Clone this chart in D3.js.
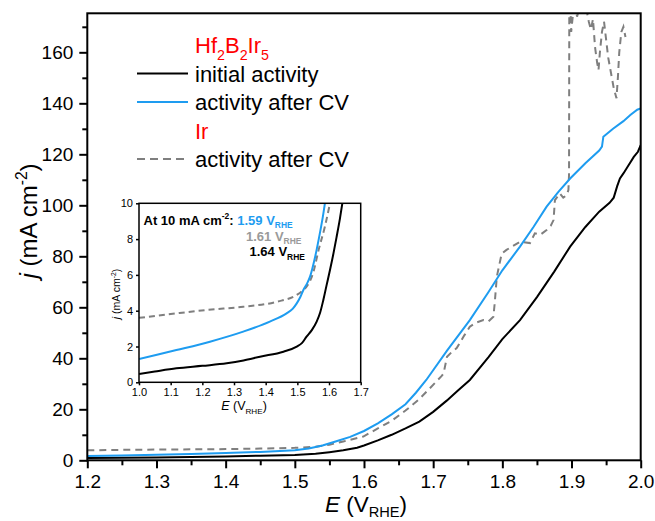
<!DOCTYPE html>
<html><head><meta charset="utf-8">
<script src="https://cdn.jsdelivr.net/npm/d3@7/dist/d3.min.js"></script>
<style>
html,body{margin:0;padding:0;background:#fff;}
svg{display:block;font-family:"Liberation Sans",Arial,sans-serif;}
</style></head>
<body>
<svg id="chart" width="655" height="521"></svg>
<script>
// ---------- DATA ----------
// Main panel: Hf2B2Ir5 initial activity [E (V_RHE), j (mA cm^-2)]
const initialActivity = [
  [1.20,0.9],[1.25,1.0],[1.30,1.1],[1.35,1.3],[1.40,1.5],[1.45,1.8],[1.50,2.1],[1.53,2.6],[1.55,3.2],
  [1.57,3.9],[1.59,4.9],[1.60,5.8],[1.62,7.8],[1.64,10.0],[1.66,12.5],[1.68,15.2],[1.70,19.0],
  [1.72,23.5],[1.735,27.2],[1.753,31.5],[1.78,40.5],[1.80,47.5],[1.8255,55.0],[1.85,64.0],
  [1.875,74.0],[1.898,83.8],[1.92,91.5],[1.94,97.5],[1.955,101.0],[1.961,103.0],[1.966,107.5],
  [1.970,110.5],[1.975,112.5],[1.982,115.5],[1.990,119.0],[1.996,121.0],[2.00,123.6]
];
// Hf2B2Ir5 activity after CV
const afterCV = [
  [1.20,1.7],[1.25,1.9],[1.30,2.2],[1.35,2.5],[1.40,2.9],[1.45,3.3],[1.50,3.9],[1.52,4.6],[1.54,5.8],
  [1.56,7.5],[1.58,9.2],[1.60,11.5],[1.62,14.5],[1.64,18.0],[1.66,22.0],[1.675,26.5],[1.69,31.5],
  [1.72,43.0],[1.753,55.0],[1.78,66.0],[1.80,74.5],[1.8255,83.8],[1.845,91.5],[1.864,99.5],
  [1.881,105.3],[1.898,110.5],[1.92,116.5],[1.94,121.5],[1.944,123.0],[1.946,126.9],[1.96,130.0],
  [1.975,133.0],[1.985,135.4],[1.995,137.5],[2.00,138.0]
];
// Ir activity after CV
const irAfterCV = [
  [1.20,3.9],[1.25,4.1],[1.30,4.2],[1.35,4.3],[1.40,4.4],[1.45,4.6],[1.50,4.9],[1.53,5.3],[1.55,6.1],
  [1.57,7.4],[1.599,9.3],[1.62,12.5],[1.64,15.5],[1.66,19.5],[1.68,24.0],[1.695,28.2],[1.705,31.0],
  [1.712,33.0],[1.715,34.0],[1.72,40.6],[1.727,42.5],[1.734,44.0],[1.745,49.0],[1.753,52.4],
  [1.762,54.0],[1.7725,55.0],[1.78,54.5],[1.787,56.3],[1.789,61.7],[1.792,72.0],[1.799,81.0],
  [1.806,82.5],[1.815,84.0],[1.8255,85.7],[1.84,85.2],[1.847,89.0],[1.855,88.5],[1.864,90.3],
  [1.870,92.0],[1.874,94.2],[1.876,102.0],[1.883,104.7],[1.888,103.0],[1.893,104.0],[1.8955,106.0],
  [1.8964,112.0],[1.8968,182.0],[1.8985,176.0],[1.8995,168.0],[1.901,172.0],[1.904,180.0],
  [1.908,174.0],[1.912,178.0],[1.918,182.0],[1.925,172.0],[1.928,169.0],[1.931,173.0],[1.934,162.0],
  [1.937,156.0],[1.939,153.0],[1.941,160.0],[1.944,168.0],[1.947,172.0],[1.950,165.0],[1.953,158.0],
  [1.957,152.0],[1.961,146.0],[1.965,142.0],[1.967,150.0],[1.969,160.0],[1.972,168.0],[1.975,170.0],
  [1.978,166.0]
];
// Inset (zoom of onset region)
const insetInitial = [
  [1.00,0.46],[1.05,0.6],[1.118,0.78],[1.20,0.92],[1.277,1.06],[1.33,1.22],[1.382,1.43],[1.456,1.71],
  [1.498,1.99],[1.515,2.2],[1.529,2.55],[1.545,2.9],[1.561,3.39],[1.572,3.9],[1.582,4.6],[1.592,5.4],
  [1.603,6.27],[1.614,7.2],[1.624,8.13],[1.634,9.1],[1.642,10.0]
];
const insetAfterCV = [
  [1.00,1.3],[1.06,1.55],[1.118,1.8],[1.224,2.27],[1.329,2.83],[1.413,3.39],[1.466,3.85],
  [1.485,4.1],[1.498,4.41],[1.509,4.75],[1.519,5.16],[1.530,5.5],[1.540,5.9],[1.556,7.0],
  [1.571,8.32],[1.580,9.2],[1.587,10.0]
];
const insetIr = [
  [1.00,3.6],[1.118,3.85],[1.22,4.05],[1.329,4.22],[1.435,4.5],[1.498,4.88],[1.515,5.1],
  [1.529,5.34],[1.551,6.18],[1.567,7.39],[1.587,8.7],[1.603,10.0]
];
const xTicksMain = [1.2,1.3,1.4,1.5,1.6,1.7,1.8,1.9,2.0];
const xMinorMain = [1.25,1.35,1.45,1.55,1.65,1.75,1.85,1.95];
const yTicksMain = [0,20,40,60,80,100,120,140,160];
const yMinorMain = [10,30,50,70,90,110,130,150,170];
const xTicksInset = [1.0,1.1,1.2,1.3,1.4,1.5,1.6,1.7];
const yTicksInset = [0,2,4,6,8,10];
const seriesNames = ["initial activity","activity after CV","activity after CV"];
const groupNames = ["Hf2B2Ir5","Ir"];
const onsetLabels = ["1.59","1.61","1.64"];

// ---------- STYLE ----------
const BLACK="#000000", BLUE="#1e9cf0", GRAY="#7f7f7f", RED="#ff0000", LGRAY="#9a9a9a";
const svg = d3.select("#chart");

function rich(g, x, y, parts, fs, attrs, subOff){
  const so = subOff===undefined ? 0.3 : subOff;
  const t = g.append("text").attr("x",x).attr("y",y).attr("font-size",fs);
  for (const k in (attrs||{})) t.attr(k, attrs[k]);
  let off = 0;
  parts.forEach(p=>{
    const s = t.append("tspan").text(p.t);
    let target = 0, size = fs;
    if (p.sub){ target = so*fs; size = 0.65*fs; }
    if (p.sup){ target = -0.42*fs; size = 0.65*fs; }
    s.attr("dy", target-off).attr("font-size", size);
    off = target;
    if (p.fill) s.attr("fill", p.fill);
    if (p.italic) s.attr("font-style","italic");
  });
  return t;
}

// ---------- MAIN PANEL ----------
const L=87.3, R=640.7, T=13.3, B=460.3;
const x = d3.scaleLinear([1.2,2.0],[L,R]);
const y = d3.scaleLinear([0,175.3],[B,T]);

svg.append("clipPath").attr("id","clipMain").append("rect")
  .attr("x",L).attr("y",T).attr("width",R-L).attr("height",B-T);

const line = d3.line().x(d=>x(d[0])).y(d=>y(d[1]));
const plot = svg.append("g").attr("clip-path","url(#clipMain)");
plot.append("path").datum(irAfterCV).attr("d",line).attr("fill","none")
  .attr("stroke",GRAY).attr("stroke-width",2).attr("stroke-dasharray","7,5");
plot.append("path").datum(initialActivity).attr("d",line).attr("fill","none")
  .attr("stroke",BLACK).attr("stroke-width",2);
plot.append("path").datum(afterCV).attr("d",line).attr("fill","none")
  .attr("stroke",BLUE).attr("stroke-width",2);

// axes
const xAxis = svg.append("g").attr("transform",`translate(0,${B})`)
  .call(d3.axisBottom(x).tickValues(xTicksMain).tickFormat(d3.format(".1f")).tickSize(8).tickPadding(6));
const xMinor = svg.append("g").attr("transform",`translate(0,${B})`)
  .call(d3.axisBottom(x).tickValues(xMinorMain).tickFormat("").tickSize(5));
const yAxis = svg.append("g").attr("transform",`translate(${L},0)`)
  .call(d3.axisLeft(y).tickValues(yTicksMain).tickFormat(d3.format("d")).tickSize(8).tickPadding(6));
const yMinor = svg.append("g").attr("transform",`translate(${L},0)`)
  .call(d3.axisLeft(y).tickValues(yMinorMain).tickFormat("").tickSize(5));
[xAxis,xMinor,yAxis,yMinor].forEach(a=>{
  a.select(".domain").remove();
  a.selectAll(".tick line").attr("stroke",BLACK).attr("stroke-width",2);
  a.selectAll(".tick text").attr("font-size",19).attr("fill",BLACK)
    .attr("font-family",'"Liberation Sans",Arial,sans-serif');
});
xAxis.selectAll(".tick text").attr("dy","0.71em");
svg.append("rect").attr("x",L).attr("y",T).attr("width",R-L).attr("height",B-T)
  .attr("fill","none").attr("stroke",BLACK).attr("stroke-width",2);

// axis titles
rich(svg, 366, 512, [{t:"E",italic:true},{t:" (V"},{t:"RHE",sub:true},{t:")"}], 22.5, {"text-anchor":"middle"}, 0.22);
rich(svg.append("g").attr("transform","translate(37,221) rotate(-90)"), 0, 0,
  [{t:"j",italic:true},{t:" (mA cm"},{t:"-2",sup:true},{t:")"}], 24, {"text-anchor":"middle"});

// legend
const lg = svg.append("g").attr("font-size",22);
rich(lg, 195, 53, [{t:"Hf"},{t:"2",sub:true},{t:"B"},{t:"2",sub:true},{t:"Ir"},{t:"5",sub:true}], 22, {fill:RED});
lg.append("line").attr("x1",137).attr("x2",188).attr("y1",73.5).attr("y2",73.5).attr("stroke",BLACK).attr("stroke-width",2);
lg.append("text").attr("x",195).attr("y",81.5).text(seriesNames[0]);
lg.append("line").attr("x1",137).attr("x2",188).attr("y1",102).attr("y2",102).attr("stroke",BLUE).attr("stroke-width",2);
lg.append("text").attr("x",195).attr("y",110).text(seriesNames[1]);
lg.append("text").attr("x",195).attr("y",138.5).attr("fill",RED).text(groupNames[1]);
lg.append("line").attr("x1",137).attr("x2",188).attr("y1",159).attr("y2",159).attr("stroke",GRAY).attr("stroke-width",2).attr("stroke-dasharray","8,5");
lg.append("text").attr("x",195).attr("y",167).text(seriesNames[2]);

// ---------- INSET ----------
const iL=139, iR=360.7, iT=203.3, iB=382.3;
const xi = d3.scaleLinear([1.0,1.7],[iL,iR]);
const yi = d3.scaleLinear([0,10],[iB,iT]);
svg.append("rect").attr("x",iL).attr("y",iT).attr("width",iR-iL).attr("height",iB-iT).attr("fill","#fff");
svg.append("clipPath").attr("id","clipIn").append("rect")
  .attr("x",iL).attr("y",iT).attr("width",iR-iL).attr("height",iB-iT);
const iline = d3.line().x(d=>xi(d[0])).y(d=>yi(d[1])).curve(d3.curveMonotoneX);
const ip = svg.append("g").attr("clip-path","url(#clipIn)");
ip.append("path").datum(insetIr).attr("d",iline).attr("fill","none")
  .attr("stroke",GRAY).attr("stroke-width",2).attr("stroke-dasharray","6,4");
ip.append("path").datum(insetInitial).attr("d",iline).attr("fill","none")
  .attr("stroke",BLACK).attr("stroke-width",2);
ip.append("path").datum(insetAfterCV).attr("d",iline).attr("fill","none")
  .attr("stroke",BLUE).attr("stroke-width",2);

const ixA = svg.append("g").attr("transform",`translate(0,${iB})`)
  .call(d3.axisBottom(xi).tickValues(xTicksInset).tickFormat(d3.format(".1f")).tickSize(3).tickPadding(3));
const iyA = svg.append("g").attr("transform",`translate(${iL},0)`)
  .call(d3.axisLeft(yi).tickValues(yTicksInset).tickFormat(d3.format("d")).tickSize(3).tickPadding(3));
[ixA,iyA].forEach(a=>{
  a.select(".domain").remove();
  a.selectAll(".tick line").attr("stroke",BLACK).attr("stroke-width",1.5);
  a.selectAll(".tick text").attr("font-size",11).attr("fill",BLACK)
    .attr("font-family",'"Liberation Sans",Arial,sans-serif');
});
svg.append("rect").attr("x",iL).attr("y",iT).attr("width",iR-iL).attr("height",iB-iT)
  .attr("fill","none").attr("stroke",BLACK).attr("stroke-width",1.5);

rich(svg, 244, 410, [{t:"E",italic:true},{t:" (V"},{t:"RHE",sub:true},{t:")"}], 12.5, {"text-anchor":"middle"});
rich(svg.append("g").attr("transform","translate(120,294) rotate(-90)"), 0, 0,
  [{t:"j",italic:true},{t:" (mA cm"},{t:"-2",sup:true},{t:")"}], 10.5, {"text-anchor":"middle"});

const ann = svg.append("g").attr("font-weight","bold");
rich(ann, 143.5, 224.5, [{t:"At 10 mA cm"},{t:"-2",sup:true},{t:": "},{t:onsetLabels[0]+" V",fill:BLUE},{t:"RHE",sub:true,fill:BLUE}], 13, {});
rich(ann, 246, 240.5, [{t:onsetLabels[1]+" V",fill:LGRAY},{t:"RHE",sub:true,fill:LGRAY}], 13, {});
rich(ann, 249.5, 256, [{t:onsetLabels[2]+" V"},{t:"RHE",sub:true}], 13, {});
</script>
</body></html>
